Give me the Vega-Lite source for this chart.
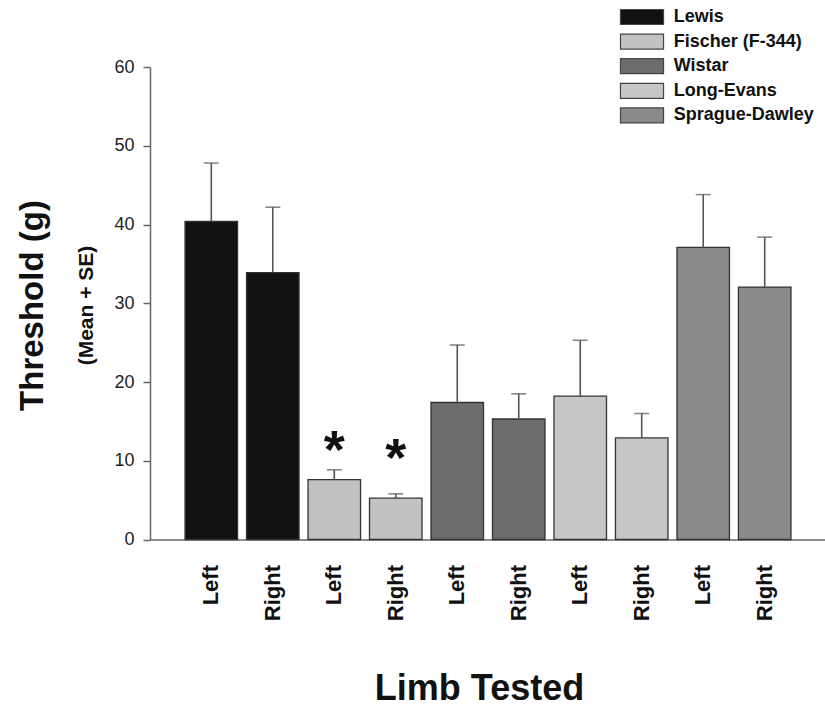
{
  "$schema": "https://vega.github.io/schema/vega-lite/v6.json",
  "autosize": {"type": "none"},
  "padding": {"left": 150, "top": 67, "right": 0, "bottom": 168.5},
  "width": 676,
  "height": 472.5,
  "config": {
    "view": {"stroke": null},
    "font": "Liberation Sans"
  },
  "data": {
    "values": [
      {"strain": "Lewis", "limb": "Left", "bar": "Lewis|Left", "mean": 40.4, "upper": 47.8},
      {"strain": "Lewis", "limb": "Right", "bar": "Lewis|Right", "mean": 33.9, "upper": 42.2},
      {"strain": "Fischer (F-344)", "limb": "Left", "bar": "Fischer|Left", "mean": 7.6, "upper": 8.85, "star": 9.1},
      {"strain": "Fischer (F-344)", "limb": "Right", "bar": "Fischer|Right", "mean": 5.25, "upper": 5.8, "star": 8.1},
      {"strain": "Wistar", "limb": "Left", "bar": "Wistar|Left", "mean": 17.4, "upper": 24.7},
      {"strain": "Wistar", "limb": "Right", "bar": "Wistar|Right", "mean": 15.3, "upper": 18.5},
      {"strain": "Long-Evans", "limb": "Left", "bar": "Long-Evans|Left", "mean": 18.2, "upper": 25.3},
      {"strain": "Long-Evans", "limb": "Right", "bar": "Long-Evans|Right", "mean": 12.9, "upper": 16.0},
      {"strain": "Sprague-Dawley", "limb": "Left", "bar": "Sprague-Dawley|Left", "mean": 37.1, "upper": 43.8},
      {"strain": "Sprague-Dawley", "limb": "Right", "bar": "Sprague-Dawley|Right", "mean": 32.05, "upper": 38.4}
    ]
  },
  "encoding": {
    "x": {
      "field": "bar",
      "type": "nominal",
      "sort": null,
      "scale": {"paddingInner": 0.146, "paddingOuter": 0.57},
      "axis": {
        "labelExpr": "split(datum.label, '|')[1]",
        "labelAngle": 270,
        "labelFont": "Liberation Sans",
        "labelFontSize": 22,
        "labelFontWeight": "bold",
        "labelColor": "#111111",
        "labelPadding": 25,
        "ticks": false,
        "domainColor": "#666666",
        "domainWidth": 1.5,
        "title": "Limb Tested",
        "titleFont": "Liberation Sans",
        "titleFontSize": 36,
        "titleFontWeight": "bold",
        "titleColor": "#111111",
        "titleX": 329,
        "titleY": 160,
        "titleAlign": "center",
        "titleBaseline": "alphabetic"
      }
    }
  },
  "layer": [
    {
      "mark": {"type": "bar", "stroke": "#333333", "strokeWidth": 1.3},
      "encoding": {
        "y": {
          "field": "mean",
          "type": "quantitative",
          "scale": {"domain": [0, 60], "nice": false},
          "axis": {
            "orient": "left",
            "values": [0, 10, 20, 30, 40, 50, 60],
            "grid": false,
            "domainColor": "#666666",
            "domainWidth": 1.5,
            "tickColor": "#666666",
            "tickWidth": 1.5,
            "tickSize": 7,
            "labelFont": "Liberation Sans",
            "labelFontSize": 18,
            "labelColor": "#222222",
            "labelPadding": 9,
            "title": "(Mean + SE)",
            "titleFont": "Liberation Sans",
            "titleFontSize": 21,
            "titleFontWeight": "bold",
            "titleColor": "#111111",
            "titleAngle": 270,
            "titleX": -58,
            "titleY": 238,
            "titleAlign": "center",
            "titleBaseline": "alphabetic"
          }
        },
        "fill": {
          "field": "strain",
          "type": "nominal",
          "scale": {
            "domain": ["Lewis", "Fischer (F-344)", "Wistar", "Long-Evans", "Sprague-Dawley"],
            "range": ["#121212", "#c2c2c2", "#6c6c6c", "#c6c6c6", "#8a8a8a"]
          },
          "legend": {
            "title": null,
            "orient": "none",
            "legendX": 470,
            "legendY": -59,
            "padding": 0,
            "symbolType": "M-2.87,-1H2.87V1H-2.87Z",
            "symbolSize": 225,
            "symbolOffset": 13,
            "symbolStrokeColor": "#444444",
            "symbolStrokeWidth": 1.2,
            "labelOffset": 22.7,
            "labelFont": "Liberation Sans",
            "labelFontSize": 18,
            "labelFontWeight": "bold",
            "labelColor": "#111111",
            "rowPadding": 4.6
          }
        }
      }
    },
    {
      "mark": {"type": "rule", "color": "#555555", "strokeWidth": 1.6},
      "encoding": {
        "y": {
          "field": "upper",
          "type": "quantitative",
          "axis": {
            "orient": "left",
            "domain": false,
            "ticks": false,
            "labels": false,
            "grid": false,
            "title": "Threshold (g)",
            "titleFont": "Liberation Sans",
            "titleFontSize": 33,
            "titleFontWeight": "bold",
            "titleColor": "#111111",
            "titleAngle": 270,
            "titleX": -107.5,
            "titleY": 238,
            "titleAlign": "center",
            "titleBaseline": "alphabetic"
          }
        },
        "y2": {"field": "mean"}
      }
    },
    {
      "mark": {"type": "tick", "color": "#555555", "thickness": 1.6, "size": 15},
      "encoding": {
        "y": {"field": "upper", "type": "quantitative", "axis": null}
      }
    },
    {
      "transform": [{"filter": "datum.star != null"}],
      "mark": {"type": "text", "text": "*", "font": "Liberation Sans", "fontSize": 54, "fontWeight": "bold", "color": "#111111", "align": "center", "baseline": "alphabetic"},
      "encoding": {
        "y": {"field": "star", "type": "quantitative", "axis": null}
      }
    }
  ],
  "resolve": {"axis": {"y": "independent"}}
}
